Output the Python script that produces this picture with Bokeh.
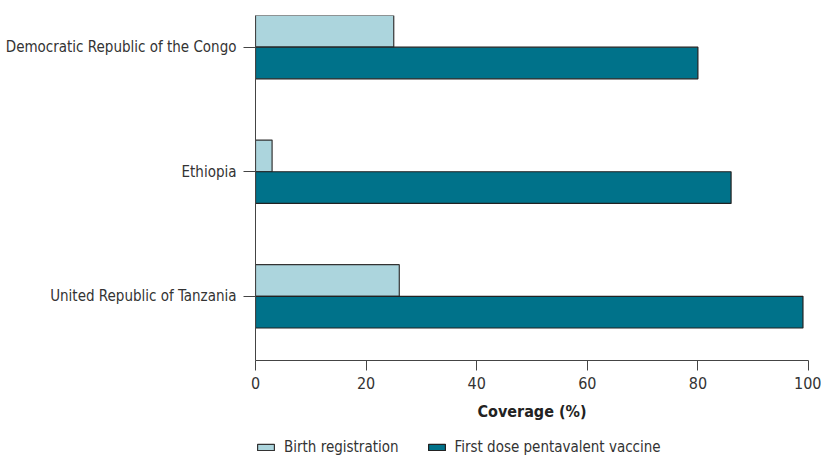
from bokeh.plotting import figure
from bokeh.layouts import column
from bokeh.models import Range1d, FixedTicker, Legend, LegendItem, ColumnDataSource
from bokeh.transform import dodge
from bokeh.embed import file_html
from bokeh.resources import INLINE

countries = ["Democratic Republic of the Congo", "Ethiopia", "United Republic of Tanzania"]
birth_registration = [25, 3, 26]
first_dose_penta = [80, 86, 99]
x_ticks = [0, 20, 40, 60, 80, 100]
series_labels = ["Birth registration", "First dose pentavalent vaccine"]

FONT = "DejaVu Sans Condensed"
TXT = "#333333"
LIGHT = "#acd5dd"
DARK = "#00728a"

n = len(countries)
ypos = [n - 1 - i for i in range(n)]
src = ColumnDataSource(dict(y=ypos, country=countries, birth=birth_registration, penta=first_dose_penta))

p = figure(width=821, height=423, output_backend="svg", toolbar_location=None,
           x_range=Range1d(0, 100), y_range=Range1d(-0.515, 2.254),
           min_border_left=255, min_border_right=13, min_border_top=15, min_border_bottom=0)

p.hbar(y=dodge("y", 0.127), right="birth", left=0, height=0.254, source=src,
       fill_color=LIGHT, line_color="#333333", line_width=1.2)
p.hbar(y=dodge("y", -0.127), right="penta", left=0, height=0.254, source=src,
       fill_color=DARK, line_color="#222222", line_width=1.2)

p.xgrid.visible = False
p.ygrid.visible = False
p.outline_line_color = None

xa = p.xaxis[0]
xa.ticker = FixedTicker(ticks=x_ticks)
xa.minor_tick_line_color = None
xa.major_tick_in = 0
xa.major_tick_out = 10
xa.axis_line_color = "#444444"
xa.major_tick_line_color = "#444444"
xa.major_label_text_font = FONT
xa.major_label_text_font_size = "16px"
xa.major_label_text_color = TXT
xa.major_label_standoff = 6
xa.axis_label = "Coverage (%)"
xa.axis_label_text_font = FONT
xa.axis_label_text_font_style = "bold"
xa.axis_label_text_font_size = "16px"
xa.axis_label_text_color = "#222222"
xa.axis_label_standoff = 10

ya = p.yaxis[0]
ya.ticker = FixedTicker(ticks=ypos)
ya.major_label_overrides = {y: c for y, c in zip(ypos, countries)}
ya.minor_tick_line_color = None
ya.major_tick_in = 0
ya.major_tick_out = 12
ya.axis_line_color = "#444444"
ya.major_tick_line_color = "#444444"
ya.major_label_text_font = FONT
ya.major_label_text_font_size = "15px"
ya.major_label_text_color = TXT
ya.major_label_standoff = 7

# legend strip below the chart
p2 = figure(width=821, height=36, output_backend="svg", toolbar_location=None,
            x_range=Range1d(0, 1), y_range=Range1d(0, 1),
            x_axis_type=None, y_axis_type=None,
            min_border_left=0, min_border_right=0, min_border_top=0, min_border_bottom=0)
p2.xgrid.visible = False
p2.ygrid.visible = False
p2.outline_line_color = None
# key swatches: one hidden bar each (placed outside the strip's range), used only for the legend glyphs
key_src = ColumnDataSource(dict(y=[-5], right=[0]))
g1 = p2.hbar(y="y", right="right", height=0.1, source=key_src,
             fill_color=LIGHT, line_color="#333333", line_width=1.2)
g2 = p2.hbar(y="y", right="right", height=0.1, source=key_src,
             fill_color=DARK, line_color="#222222", line_width=1.2)

legend = Legend(items=[LegendItem(label=series_labels[0], renderers=[g1]),
                       LegendItem(label=series_labels[1], renderers=[g2])],
                orientation="horizontal", location=(0, 3),
                border_line_color=None, background_fill_alpha=0,
                padding=0, margin=0, spacing=27, label_standoff=8,
                glyph_width=21, glyph_height=8,
                label_text_font=FONT, label_text_font_size="15px", label_text_color=TXT)
p2.add_layout(legend, "center")

layout = column(p, p2, spacing=0)
open("out.html", "w").write(file_html(layout, INLINE))
